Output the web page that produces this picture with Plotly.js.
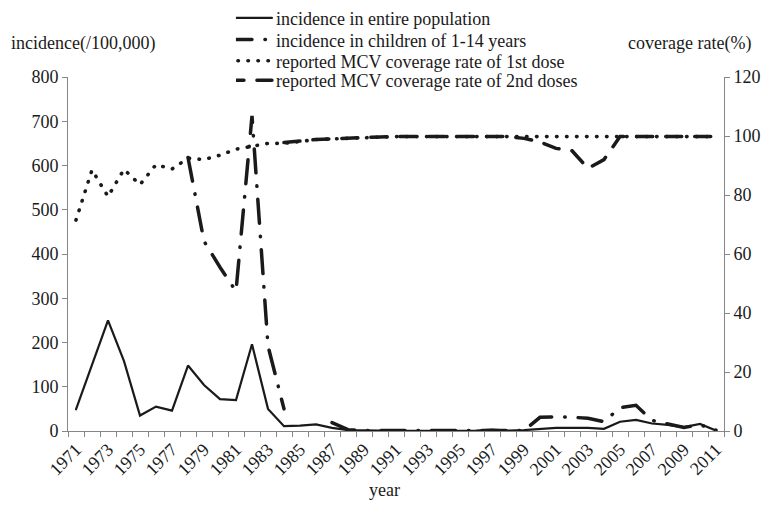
<!DOCTYPE html>
<html>
<head>
<meta charset="utf-8">
<script src="https://cdn.plot.ly/plotly-3.0.1.min.js"></script>
<style>
html,body{margin:0;padding:0;background:#fff;}
#chart{width:768px;height:525px;}
</style>
</head>
<body>
<div id="chart"></div>
<script>
var years = [1971,1972,1973,1974,1975,1976,1977,1978,1979,1980,1981,1982,1983,1984,1985,1986,1987,1988,1989,1990,1991,1992,1993,1994,1995,1996,1997,1998,1999,2000,2001,2002,2003,2004,2005,2006,2007,2008,2009,2010,2011];
var tickYears = [1971,1973,1975,1977,1979,1981,1983,1985,1987,1989,1991,1993,1995,1997,1999,2001,2003,2005,2007,2009,2011];
var tickLabels = ["1971","1973","1975","1977","1979","1981","1983","1985","1987","1989","1991","1993","1995","1997","1999","2001","2003","2005","2007","2009","2011"];

var incidenceEntire = [49,150,250,158,35,55,46,148,104,72,70,196,50,11,12,15,7,2,1,1,0.5,0.5,0.5,0.5,0.5,1,3,1,2,5,7,7,7,5,21,25,17,14,9,16,1];
var incidenceChildren = [null,null,null,null,null,null,null,618,429,370,316,712,192,50,null,null,19,3,1,1,1,1,1,1,1,1,1,1,1,31,32,31,29,21,53,58,24,16,8,14,2];
var coverage1st = [71.5,88.5,79.5,88.7,83.5,90.3,88.8,92.5,92,93.5,95.5,96.5,97.5,97.5,98.3,98.8,99,99.3,99.5,99.6,99.8,99.8,99.8,99.8,99.8,99.8,99.8,99.8,99.8,99.8,99.8,99.8,99.8,99.8,99.8,99.8,99.8,99.8,99.8,99.8,99.8];
var coverage2nd = [null,null,null,null,null,null,null,null,null,null,null,null,null,97.8,98.3,98.8,99,99.3,99.5,99.7,99.8,99.8,99.8,99.8,99.8,99.8,99.8,99.8,99.2,98,95.8,95,89,92,99.8,99.8,99.8,99.8,99.8,99.8,99.8];

var seriesNames = ["incidence in entire population","incidence in children of 1-14 years","reported MCV coverage rate of 1st dose","reported MCV coverage rate of 2nd doses"];

var FONT = "'Liberation Serif', 'Times New Roman', serif";
var TXT = "#1a1a1a";
var AXC = "#868686";
var FS = 18;

var traces = [
  {x: years, y: incidenceEntire, name: seriesNames[0], type: "scatter", mode: "lines", legend: "legend",
   line: {color: TXT, width: 2.2}, yaxis: "y"},
  {x: years, y: incidenceChildren, name: seriesNames[1], type: "scatter", mode: "lines", legend: "legend2",
   line: {color: TXT, width: 3.5, dash: "24px,13px,0.5px,13px"}, yaxis: "y", connectgaps: false},
  {x: years, y: coverage1st, name: seriesNames[2], type: "scatter", mode: "lines", legend: "legend3",
   line: {color: TXT, width: 3.6, dash: "0.5px,9.5px"}, yaxis: "y2"},
  {x: years, y: coverage2nd, name: seriesNames[3], type: "scatter", mode: "lines", legend: "legend4",
   line: {color: TXT, width: 3.5, dash: "16px,13px"}, yaxis: "y2", connectgaps: false}
];

function leg(yc){
  return {x: 0.256, xanchor: "left", y: yc, yanchor: "middle", bgcolor: "rgba(0,0,0,0)",
          borderwidth: 0, font: {family: FONT, size: FS, color: TXT}};
}

var layout = {
  width: 768, height: 525,
  margin: {l: 68, r: 44, t: 77, b: 94, autoexpand: false},
  paper_bgcolor: "#fff", plot_bgcolor: "#fff",
  font: {family: FONT, size: FS, color: TXT},
  showlegend: true,
  legend: leg(1.166), legend2: leg(1.105), legend3: leg(1.045), legend4: leg(0.99),
  xaxis: {
    type: "linear", range: [1970.5, 2011.5], showgrid: false, zeroline: false,
    showline: true, linecolor: AXC, linewidth: 1,
    tickmode: "array", tickvals: tickYears, ticktext: tickLabels, tickangle: -45,
    ticks: "", tickfont: {family: FONT, size: FS, color: TXT},
    minor: {tick0: 1970.5, dtick: 1, ticks: "outside", ticklen: 5, tickcolor: AXC, showgrid: false}
  },
  yaxis: {
    range: [0, 800], dtick: 100, showgrid: false, zeroline: false,
    showline: true, linecolor: AXC, linewidth: 1,
    ticks: "outside", ticklen: 5, tickcolor: AXC,
    tickfont: {family: FONT, size: FS, color: TXT}
  },
  yaxis2: {
    range: [0, 120], dtick: 20, overlaying: "y", side: "right", showgrid: false, zeroline: false,
    showline: true, linecolor: AXC, linewidth: 1,
    ticks: "outside", ticklen: 5, tickcolor: AXC,
    tickfont: {family: FONT, size: FS, color: TXT}
  },
  annotations: [
    {text: "incidence(/100,000)", xref: "paper", yref: "paper", x: -0.09, y: 1.096, xanchor: "left", yanchor: "middle",
     showarrow: false, font: {family: FONT, size: FS, color: TXT}},
    {text: "coverage rate(%)", xref: "paper", yref: "paper", x: 1.044, y: 1.096, xanchor: "right", yanchor: "middle",
     showarrow: false, font: {family: FONT, size: FS, color: TXT}},
    {text: "year", xref: "paper", yref: "paper", x: 0.483, y: -0.167, xanchor: "center", yanchor: "middle",
     showarrow: false, font: {family: FONT, size: FS, color: TXT}}
  ]
};

Plotly.newPlot("chart", traces, layout, {displayModeBar: false, staticPlot: true}).then(function(){
  document.querySelectorAll("path.js-line").forEach(function(p){
    p.style.strokeLinecap = "round";
  });
  document.querySelectorAll(".legendlines path.js-line").forEach(function(p){
    p.setAttribute("d", "M-8,0h44");
  });
});
</script>
</body>
</html>
